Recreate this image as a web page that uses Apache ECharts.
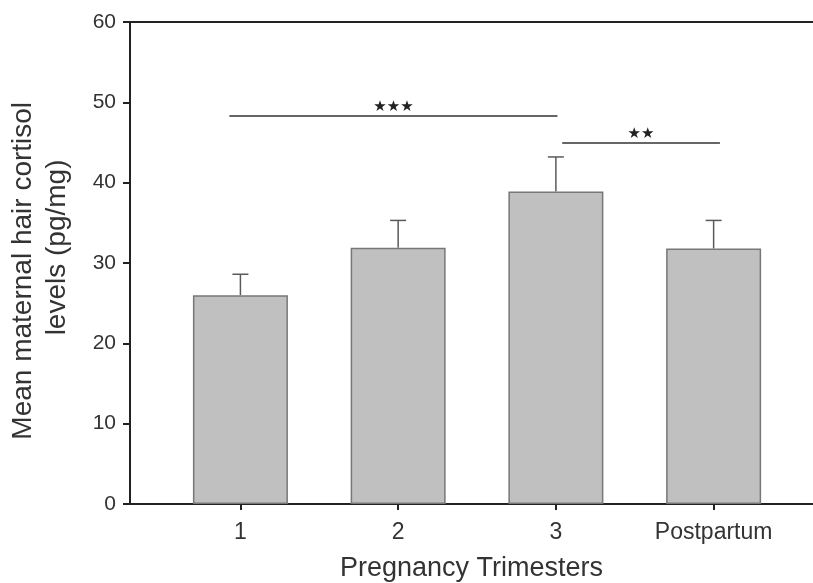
<!DOCTYPE html>
<html>
<head>
<meta charset="utf-8">
<script src="https://cdn.jsdelivr.net/npm/echarts@6/dist/echarts.min.js"></script>
<style>
  html, body { margin: 0; padding: 0; background: #fff; }
  #chart { width: 813px; height: 583px; }
</style>
</head>
<body>
<div id="chart"></div>
<script>
// data
var categories = ['1', '2', '3', 'Postpartum'];
var positions = [1, 2, 3, 4];
var means = [26, 31.9, 38.9, 31.8];
var errors = [2.6, 3.4, 4.3, 3.5];
var yTicks = [0, 10, 20, 30, 40, 50, 60];

// significance brackets: start, end (x positions), height, stars
var sigFrom = [0.93, 3.04];
var sigTo = [3.01, 4.04];
var sigY = [48.3, 45.0];
var sigText = ['★★★', '★★'];

var textColor = '#333';
var axisColor = '#222';

var chart = echarts.init(document.getElementById('chart'));

var barData = positions.map(function (p, i) { return [p, means[i]]; });
var errData = positions.map(function (p, i) { return [p, means[i], means[i] + errors[i]]; });
var sigLines = sigFrom.map(function (f, i) {
  return [
    { coord: [f, sigY[i]], label: { formatter: sigText[i] } },
    { coord: [sigTo[i], sigY[i]] }
  ];
});

var option = {
  animation: false,
  backgroundColor: '#fff',
  grid: { left: 130, right: 0, top: 22, bottom: 79, outerBoundsMode: 'none' },
  xAxis: [{
    type: 'value',
    min: 0.3,
    max: 4.63,
    name: 'Pregnancy Trimesters',
    nameLocation: 'middle',
    nameGap: 51,
    nameTextStyle: { fontFamily: 'Liberation Sans', fontSize: 27, color: textColor },
    axisLine: { show: true, lineStyle: { color: axisColor, width: 2 } },
    axisTick: { show: true, customValues: positions, length: 6, lineStyle: { color: axisColor, width: 2 } },
    axisLabel: {
      customValues: positions,
      margin: 17,
      fontFamily: 'Liberation Sans',
      fontSize: 23,
      color: textColor,
      formatter: function (v) { return categories[positions.indexOf(v)]; }
    },
    splitLine: { show: false }
  }, {
    type: 'value',
    position: 'top',
    min: 0.3,
    max: 4.63,
    axisLine: { show: true, lineStyle: { color: axisColor, width: 2 } },
    axisTick: { show: false },
    axisLabel: { show: false },
    splitLine: { show: false }
  }],
  yAxis: {
    type: 'value',
    min: 0,
    max: 60,
    interval: 10,
    name: 'Mean maternal hair cortisol  \n    levels (pg/mg)',
    nameLocation: 'middle',
    nameGap: 56,
    nameTextStyle: { fontFamily: 'Liberation Sans', fontSize: 28, color: textColor, lineHeight: 34 },
    axisLine: { show: true, lineStyle: { color: axisColor, width: 2 } },
    axisTick: { show: true, length: 7, lineStyle: { color: axisColor, width: 2 } },
    axisLabel: {
      margin: 14,
      fontFamily: 'Liberation Sans',
      fontSize: 21,
      color: textColor,
      customValues: yTicks
    },
    splitLine: { show: false }
  },
  series: [{
    type: 'bar',
    data: barData,
    barWidth: 95,
    itemStyle: { color: '#c0c0c0', borderColor: '#777', borderWidth: 1.5 },
    z: 3
  }, {
    type: 'custom',
    data: errData,
    z: 2,
    renderItem: function (params, api) {
      var x = api.value(0);
      var base = api.coord([x, api.value(1)]);
      var top = api.coord([x, api.value(2)]);
      var half = 8;
      return {
        type: 'group',
        children: [{
          type: 'line',
          shape: { x1: base[0], y1: base[1], x2: top[0], y2: top[1] },
          style: { stroke: '#5a5a5a', lineWidth: 1.5 }
        }, {
          type: 'line',
          shape: { x1: top[0] - half, y1: top[1], x2: top[0] + half, y2: top[1] },
          style: { stroke: '#5a5a5a', lineWidth: 1.5 }
        }]
      };
    },
    markLine: {
      silent: true,
      symbol: 'none',
      lineStyle: { color: '#666', width: 2, type: 'solid' },
      label: {
        show: true,
        position: 'middle',
        distance: 1,
        fontFamily: 'DejaVu Sans',
        fontSize: 15,
        color: '#222'
      },
      data: sigLines
    }
  }]
};

chart.setOption(option);
</script>
</body>
</html>
